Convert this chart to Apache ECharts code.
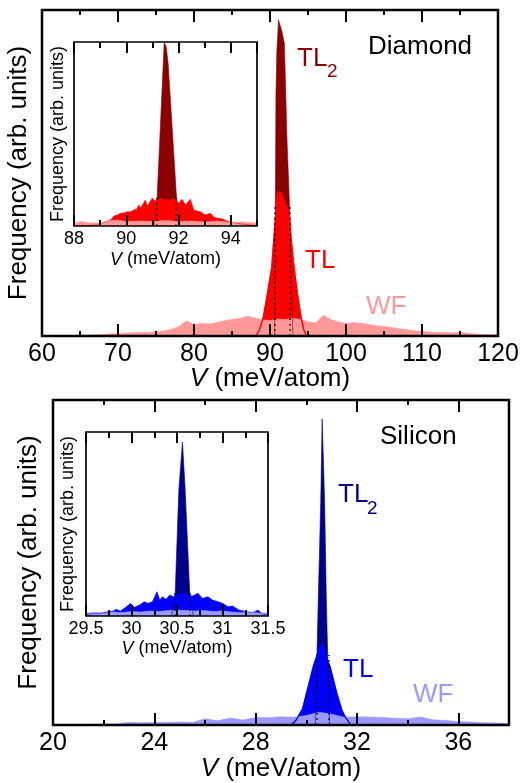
<!DOCTYPE html>
<html><head><meta charset="utf-8">
<script src="https://cdn.jsdelivr.net/npm/echarts@6/dist/echarts.min.js"></script>
<style>html,body{margin:0;padding:0;background:#fff}#c{width:524px;height:783px}</style>
</head><body><div id="c"></div>
<script>
// ---------------- DATA ----------------
// Diamond, main panel (V in meV/atom, frequency in arb. units)
const dTl2V = [90.6, 90.72, 90.78, 90.9, 91.12, 91.55, 91.88, 92.05, 92.2, 92.54, 92.8, 93.0];
const dTl2F = [0, 15, 24, 28.5, 31.6, 30.5, 29.3, 25, 20.3, 13.6, 6, 0];
const dTlV = [88.1, 88.6, 89.12, 89.6, 90.22, 90.75, 91.0, 91.22, 91.5, 92.0, 92.54, 92.72, 93.16, 93.6, 94.08, 94.45, 94.8];
const dTlF = [0, 0.6, 1.9, 4.0, 6.9, 12.3, 14.4, 14.6, 14.3, 13.2, 12.3, 10.3, 6.9, 4.3, 1.9, 0.6, 0];
const dWfV = [60,61,62,63,64,65,66,67,68,69,70,71,72,73,74,75,76,77,78,79,80,81,82,83,84,85,86,87,88,89,90,91,92,93,94,95,96,97,98,99,100,101,102,103,104,105,106,107,108,109,110,111,112,113,114,115,116,117,118,119,120];
const dWfF = [0,0,0,0.01,0.02,0.04,0.08,0.12,0.16,0.22,0.26,0.29,0.32,0.38,0.36,0.44,0.50,0.66,0.95,1.50,1.15,1.26,1.20,1.34,1.52,1.66,1.74,1.98,1.80,1.62,1.54,1.70,1.64,1.78,1.66,1.42,1.30,2.08,1.64,1.40,1.26,1.34,1.28,1.14,1.02,0.94,0.86,0.72,0.64,0.52,0.46,0.40,0.34,0.38,0.30,0.40,0.28,0.20,0.16,0.14,0.10];
const dHidden = [[90.57, 13.0], [92.6, 13.0]];

// Diamond, inset
const diTl2V = [91.05, 91.18, 91.45, 91.52, 91.6, 91.92, 92.05];
const diTl2F = [0, 2.9, 18.3, 18.0, 16.3, 2.9, 0];
const diTlV = [88.0,88.5,88.8,89.02,89.2,89.4,89.53,89.65,89.78,89.9,90.03,90.15,90.29,90.4,90.48,90.55,90.6,90.73,90.8,90.85,90.99,91.1,91.18,91.31,91.45,91.56,91.7,91.82,92.0,92.13,92.26,92.45,92.58,92.7,92.83,93.02,93.21,93.35,93.47,93.6,93.72,93.85,93.98,94.1,94.23,94.49,94.87,95.0];
const diTlF = [0,0.05,0.1,0.27,0.4,0.6,1.0,1.1,1.27,1.3,1.43,1.4,1.6,1.7,2.1,1.8,1.87,2.6,2.0,2.0,2.77,2.5,2.6,2.77,2.6,2.67,2.6,2.8,2.27,2.67,2.1,2.67,1.6,1.5,1.43,1.1,1.27,0.9,0.77,0.75,0.67,0.5,0.43,0.35,0.27,0.17,0.07,0.05];
const diWfV = [88.0,88.3,88.6,89.0,89.3,89.6,90.0,90.5,91.0,91.5,92.0,92.5,93.0,93.5,94.0,94.5,95.0];
const diWfF = [0.3,0.45,0.3,0.3,0.5,0.6,0.45,0.5,0.45,0.55,0.45,0.5,0.4,0.5,0.35,0.4,0.3];
const diHidden = [[91.17, 2.9], [91.9, 2.9]];

// Silicon, main panel
const sTl2V = [30.35, 30.43, 30.47, 30.57, 30.625, 30.72, 30.79, 30.85, 30.92];
const sTl2F = [0, 8.2, 12.5, 22.5, 30.6, 22.5, 12.5, 6.2, 0];
const sTlV = [29.4, 29.6, 29.75, 29.85, 30.01, 30.27, 30.5, 30.64, 30.75, 30.94, 31.2, 31.4, 31.53, 31.62, 31.75];
const sTlF = [0, 0.5, 1.2, 1.6, 3.2, 5.8, 7.6, 8.2, 7.0, 5.8, 3.2, 1.5, 0.83, 0.5, 0];
const sWfV = [20,20.5,21,21.5,22,22.5,23,23.5,24,24.5,25,25.5,26,26.5,27,27.5,28,28.5,29,29.5,30,30.5,31,31.5,32,32.5,33,33.5,34,34.5,35,35.5,36,36.5,37,37.5,38];
const sWfF = [0,0,0.02,0.05,0.08,0.10,0.27,0.22,0.24,0.27,0.30,0.25,0.62,0.42,0.70,0.50,0.75,0.72,0.83,0.78,0.95,1.28,1.08,0.78,0.83,0.80,0.76,0.68,0.62,0.80,0.52,0.45,0.35,0.30,0.23,0.20,0.16];
const sHidden = [[30.41, 7.0], [30.9, 7.0]];

// Silicon, inset
const siTl2V = [30.44, 30.48, 30.52, 30.56, 30.59, 30.64, 30.68];
const siTl2F = [0, 2.3, 12.6, 17.4, 12.6, 2.3, 0];
const siTlV = [29.5,29.57,29.65,29.72,29.8,29.83,29.88,29.94,29.99,30.03,30.09,30.14,30.18,30.23,30.28,30.31,30.34,30.38,30.42,30.46,30.5,30.55,30.6,30.67,30.73,30.78,30.84,30.89,30.95,31.0,31.06,31.11,31.18,31.26,31.33,31.39,31.44,31.5];
const siTlF = [0.1,0.3,0.25,0.4,0.5,0.67,0.5,0.9,1.27,0.87,1.1,1.43,1.27,1.43,2.43,1.6,1.93,1.67,2.1,1.93,2.1,2.3,2.1,2.0,2.27,1.77,1.93,1.6,1.43,1.27,0.93,1.0,0.6,0.43,0.33,0.6,0.2,0.07];
const siWfV = [29.5,29.6,29.7,29.8,29.9,30.0,30.1,30.2,30.3,30.4,30.5,30.6,30.7,30.8,30.9,31.0,31.1,31.2,31.3,31.4,31.5];
const siWfF = [0.3,0.35,0.3,0.4,0.35,0.45,0.4,0.5,0.45,0.55,0.6,0.55,0.5,0.55,0.45,0.5,0.4,0.35,0.4,0.3,0.3];
const siHidden = [[30.48, 2.3], [30.64, 2.3]];

// Axis ticks: [min, max, labelled step, minor step, freq max]
const dMainAxis = [60, 120, 10, 5, 32.6];
const dInsetAxis = [88, 95, 2, 1, 18.4];
const sMainAxis = [20, 38, 4, 2, 32.5];
const sInsetAxis = [29.5, 31.5, 0.5, 0.25, 18.4];

// ---------------- BUILD ----------------
const FONT = '"Liberation Sans", Arial, Helvetica, sans-serif';
const grids = [], xAxes = [], yAxes = [], series = [];
const pairs = (V, F) => V.map((v, i) => [v, F[i]]);

function addPanel(p) {
  const gi = grids.length;
  grids.push({left: p.left, top: p.top, width: p.width, height: p.height, show: true, z: 10,
    borderColor: '#000', borderWidth: p.bw, backgroundColor: 'transparent', containLabel: false, outerBoundsMode: 'none'});
  const [mn, mx, major, minor, ymax] = p.axis;
  const base = {gridIndex: gi, type: 'value', min: mn, max: mx, z: 10, silent: true,
    axisLine: {show: false, onZero: false}, splitLine: {show: false}, nameMoveOverlap: false};
  const tick = (len) => ({show: true, inside: true, length: len, lineStyle: {color: '#000', width: 2}});
  const xi = xAxes.length;
  xAxes.push(Object.assign({}, base, {position: 'bottom', interval: major, axisTick: tick(p.longT),
    axisLabel: {show: true, margin: p.margin, fontSize: p.tickFont, fontFamily: FONT, color: '#000',
      showMinLabel: true, showMaxLabel: p.showMax, formatter: v => String(v)},
    name: '{i|V} (meV/atom)', nameLocation: 'middle', nameGap: p.xGap,
    nameTextStyle: {fontSize: p.nameFont, fontFamily: FONT, color: '#000',
      rich: {i: {fontStyle: 'italic', fontSize: p.nameFont, fontFamily: FONT, color: '#000'}}}}));
  xAxes.push(Object.assign({}, base, {position: 'bottom', interval: minor, axisTick: tick(p.shortT), axisLabel: {show: false}}));
  xAxes.push(Object.assign({}, base, {position: 'top', interval: major, axisTick: tick(p.longT), axisLabel: {show: false}}));
  xAxes.push(Object.assign({}, base, {position: 'top', interval: minor, axisTick: tick(p.shortT), axisLabel: {show: false}}));
  yAxes.push({gridIndex: gi, type: 'value', min: 0, max: ymax, silent: true,
    axisLine: {show: false, onZero: false}, axisTick: {show: false}, axisLabel: {show: false}, splitLine: {show: false},
    name: 'Frequency (arb. units)', nameLocation: 'middle', nameGap: p.yGap, nameMoveOverlap: false,
    nameTextStyle: {fontSize: p.nameFont, fontFamily: FONT, color: '#000'}});
  const yi = yAxes.length - 1;
  const area = (V, F, color) => ({type: 'line', xAxisIndex: xi, yAxisIndex: yi, data: pairs(V, F),
    symbol: 'none', showSymbol: false, silent: true, animation: false, z: 2,
    lineStyle: {width: 0.6, color: color}, itemStyle: {color: color}, areaStyle: {color: color, opacity: 1}});
  series.push(area(p.tl2[0], p.tl2[1], p.c2));
  series.push(area(p.tl[0], p.tl[1], p.c1));
  series.push(area(p.wf[0], p.wf[1], p.c0));
  const last = {type: 'line', xAxisIndex: xi, yAxisIndex: yi, data: p.outline ? pairs(p.tl[0], p.tl[1]) : [],
    symbol: 'none', showSymbol: false, silent: true, animation: false, z: 3,
    lineStyle: {width: 1.3, color: p.c1},
    markLine: {symbol: 'none', silent: true, animation: false, label: {show: false},
      lineStyle: {type: [1.5, 3.8], color: '#000', width: 1.5},
      data: p.hidden.map(h => [{coord: [h[0], 0]}, {coord: [h[0], h[1]]}])}};
  series.push(last);
}

const dRed = '#8b0000', red = '#ff0000', pink = '#ff9999';
const navy = '#00008b', blue = '#0000ff', lblue = '#9999ff';

addPanel({left: 42, top: 10, width: 456, height: 326, bw: 2.5, axis: dMainAxis, longT: 12, shortT: 5,
  margin: 5.5, tickFont: 25, nameFont: 26, xGap: 29.5, yGap: 10.5, showMax: true,
  tl2: [dTl2V, dTl2F], tl: [dTlV, dTlF], wf: [dWfV, dWfF], hidden: dHidden, outline: true, c2: dRed, c1: red, c0: pink});
addPanel({left: 74, top: 42, width: 183, height: 184, bw: 1.7, axis: dInsetAxis, longT: 11, shortT: 6,
  margin: 4, tickFont: 18, nameFont: 18, xGap: 24.5, yGap: 6.5, showMax: false,
  tl2: [diTl2V, diTl2F], tl: [diTlV, diTlF], wf: [diWfV, diWfF], hidden: diHidden, outline: false, c2: dRed, c1: red, c0: pink});
addPanel({left: 53, top: 400, width: 456, height: 325, bw: 2.5, axis: sMainAxis, longT: 12, shortT: 5,
  margin: 5.8, tickFont: 25, nameFont: 26, xGap: 30.5, yGap: 11, showMax: false,
  tl2: [sTl2V, sTl2F], tl: [sTlV, sTlF], wf: [sWfV, sWfF], hidden: sHidden, outline: true, c2: navy, c1: blue, c0: lblue});
addPanel({left: 86, top: 432, width: 182, height: 184, bw: 1.7, axis: sInsetAxis, longT: 11, shortT: 6,
  margin: 4, tickFont: 18, nameFont: 18, xGap: 23.5, yGap: 8.5, showMax: true,
  tl2: [siTl2V, siTl2F], tl: [siTlV, siTlF], wf: [siWfV, siWfF], hidden: siHidden, outline: false, c2: navy, c1: blue, c0: lblue});

const txt = (s, x, y, size, color) => ({type: 'text', z: 100, silent: true,
  style: {text: s, x: x, y: y, fill: color, font: size + 'px ' + FONT, align: 'left', verticalAlign: 'middle'}});

const chart = echarts.init(document.getElementById('c'), null, {renderer: 'canvas'});
chart.setOption({
  animation: false,
  backgroundColor: '#fff',
  grid: grids, xAxis: xAxes, yAxis: yAxes, series: series,
  graphic: [
    txt('Diamond', 368, 47, 26, '#000'),
    txt('TL', 297, 58.5, 26, dRed), txt('2', 327, 72, 19, dRed),
    txt('TL', 305, 261, 26, red),
    txt('WF', 366, 307, 26, pink),
    txt('Silicon', 380, 436.5, 26, '#000'),
    txt('TL', 338, 495, 26, navy), txt('2', 367, 509, 19, navy),
    txt('TL', 343, 670, 26, blue),
    txt('WF', 413, 695, 26, lblue)
  ]
});
</script></body></html>
